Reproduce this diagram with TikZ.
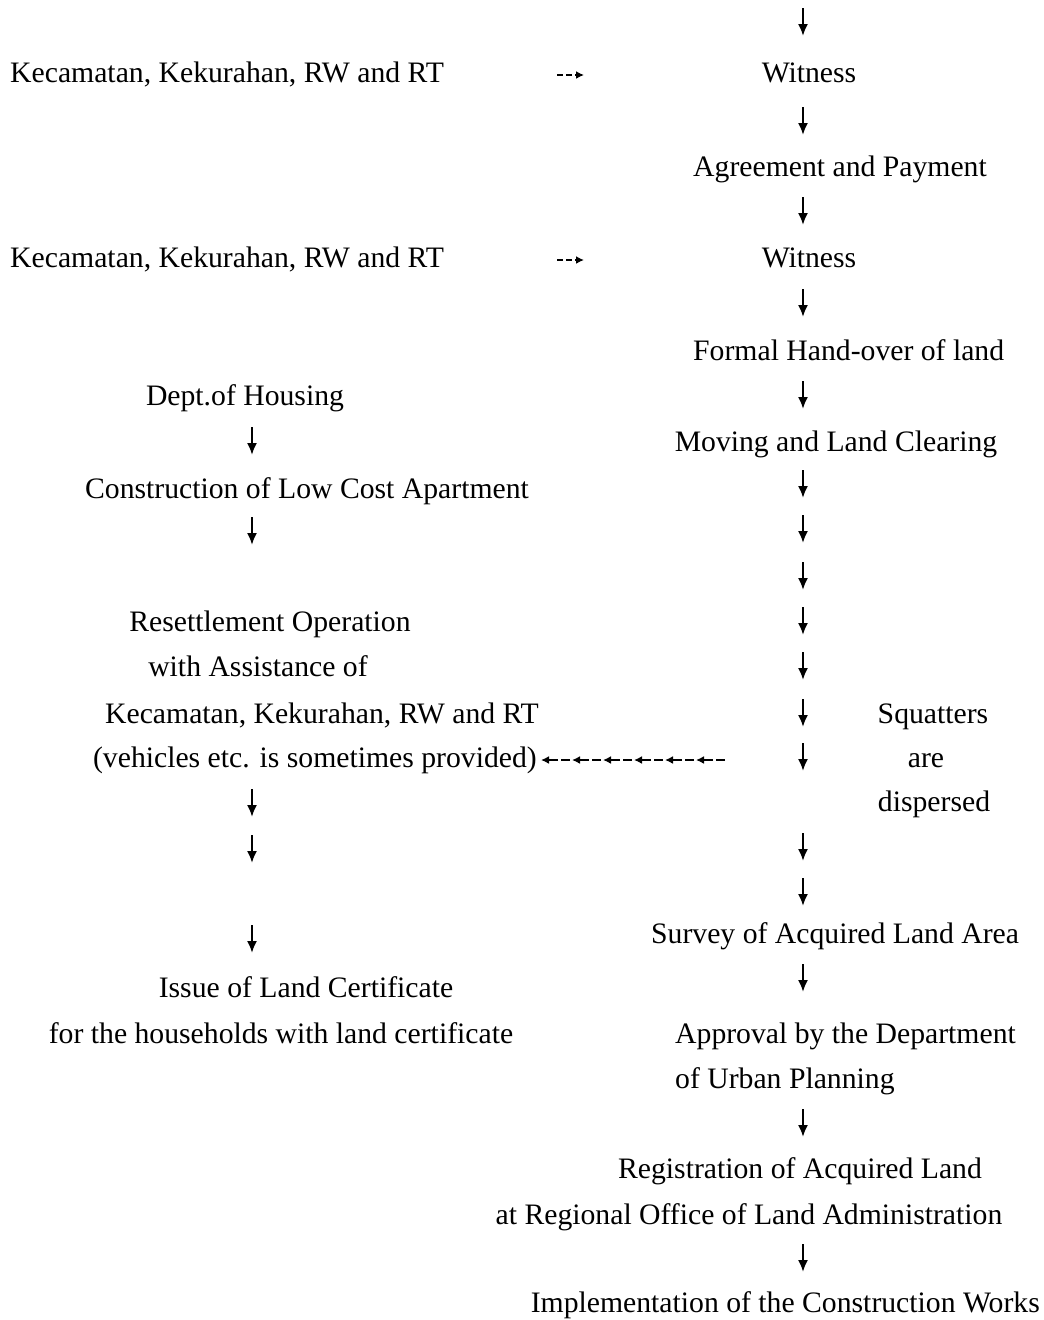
\documentclass[tikz,border=0pt]{standalone}
\usepackage{fontspec}
\setmainfont{Liberation Serif}
\usetikzlibrary{arrows.meta}
\begin{document}
\begin{tikzpicture}[x=1pt,y=-1pt,
  lbl/.style={inner sep=0pt, font=\fontsize{29.7}{36}\selectfont},
  dnarr/.style={line width=2pt, -{Latex[length=12pt,width=10pt]}},
  sidearr/.style={line width=1.6pt, dash pattern=on 6pt off 3pt, -{Latex[length=8pt,width=8pt]}},
  backarr/.style={line width=1.6pt, dash pattern=on 9pt off 3pt, -{Latex[length=8pt,width=8pt]}}]
\useasboundingbox (0,0) rectangle (1044,1320);
\fill[white] (0,0) rectangle (1044,1320);

% left column texts
\node[lbl,anchor=base west] (kec1) at (10,82) {Kecamatan, Kekurahan, RW and RT};
\node[lbl,anchor=base west] (kec2) at (10,267) {Kecamatan, Kekurahan, RW and RT};
\node[lbl,anchor=base] (dept) at (245,405) {Dept.of Housing};
\node[lbl,anchor=base] (cons) at (307,498) {Construction of Low Cost Apartment};
\node[lbl,anchor=base] (res1) at (270,631) {Resettlement Operation};
\node[lbl,anchor=base] (res2) at (258,676) {with Assistance of};
\node[lbl,anchor=base] (res3) at (322,723) {Kecamatan, Kekurahan, RW and RT};
\node[lbl,anchor=base east] (res4) at (537,767) {(vehicles etc. is sometimes provided)};
\node[lbl,anchor=base] (iss1) at (306,997) {Issue of Land Certificate};
\node[lbl,anchor=base] (iss2) at (281,1043) {for the households with land certificate};

% right column texts
\node[lbl,anchor=base] (wit1) at (809,82) {Witness};
\node[lbl,anchor=base west] (agr) at (693,176) {Agreement and Payment};
\node[lbl,anchor=base] (wit2) at (809,267) {Witness};
\node[lbl,anchor=base west] (hand) at (693,360) {Formal Hand-over of land};
\node[lbl,anchor=base] (move) at (836,451) {Moving and Land Clearing};
\node[lbl,anchor=base] (sq1) at (933,723) {Squatters};
\node[lbl,anchor=base] (sq2) at (926,767) {are};
\node[lbl,anchor=base] (sq3) at (934,811) {dispersed};
\node[lbl,anchor=base west] (surv) at (651,943) {Survey of Acquired Land Area};
\node[lbl,anchor=base west] (appr1) at (675,1043) {Approval by the Department};
\node[lbl,anchor=base west] (appr2) at (675,1088) {of Urban Planning};
\node[lbl,anchor=base] (reg1) at (800,1178) {Registration of Acquired Land};
\node[lbl,anchor=base] (reg2) at (749,1224) {at Regional Office of Land Administration};
\node[lbl,anchor=base east] (impl) at (1040,1312) {Implementation of the Construction Works};

% side arrows Kecamatan -> Witness
\coordinate (s1a) at (557,75); \coordinate (s1b) at (584,75);
\coordinate (s2a) at (557,260); \coordinate (s2b) at (584,260);
\draw[sidearr] (s1a) -- (s1b);
\draw[sidearr] (s2a) -- (s2b);

% right column down arrows
\foreach \c in {22,121,211,303,395,484,529,576,621,666,713,757,847,892,978,1123,1258}
  \draw[dnarr] (803,\c-14) -- (803,\c+14);

% left column down arrows
\foreach \c in {441,531,803,849,939}
  \draw[dnarr] (252,\c-14) -- (252,\c+14);

% dashed arrows towards resettlement operation
\foreach \t in {541,572,603,634,665,696}
  \draw[backarr] (\t+29,760) -- (\t,760);
\end{tikzpicture}
\end{document}
